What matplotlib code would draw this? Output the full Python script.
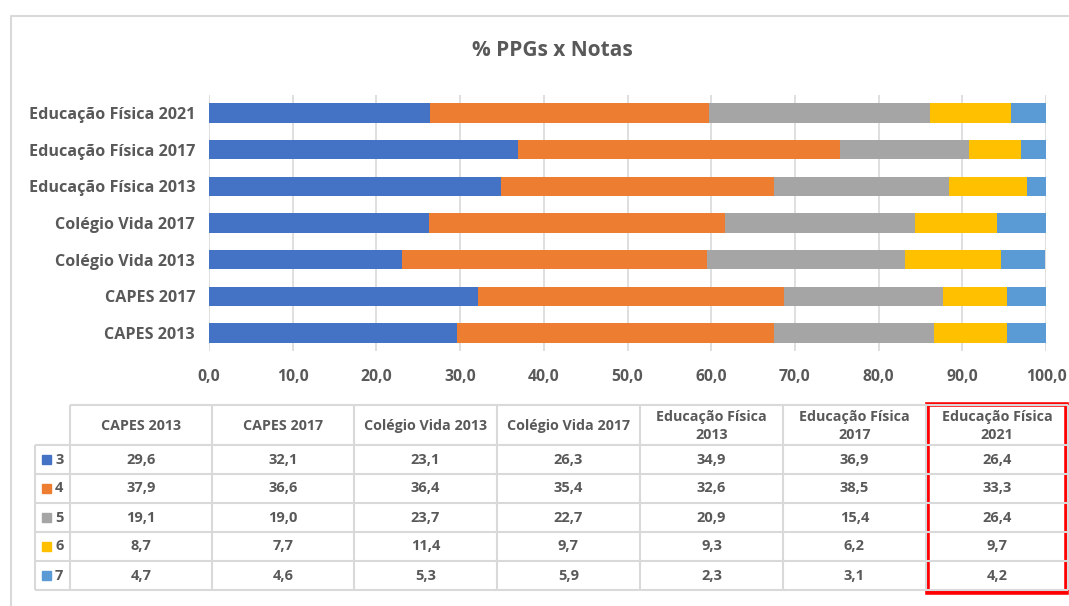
import matplotlib.pyplot as plt
from matplotlib.patches import Rectangle
import numpy as np

plt.rcParams['font.family'] = ['Open Sans', 'DejaVu Sans']

# data
categories = ['CAPES 2013', 'CAPES 2017', 'Colégio Vida 2013', 'Colégio Vida 2017',
              'Educação Física 2013', 'Educação Física 2017', 'Educação Física 2021']
header_labels = ['CAPES 2013', 'CAPES 2017', 'Colégio Vida 2013', 'Colégio Vida 2017',
                 'Educação Física\n2013', 'Educação Física\n2017', 'Educação Física\n2021']
grades = ['3', '4', '5', '6', '7']
nota_3 = [29.6, 32.1, 23.1, 26.3, 34.9, 36.9, 26.4]
nota_4 = [37.9, 36.6, 36.4, 35.4, 32.6, 38.5, 33.3]
nota_5 = [19.1, 19.0, 23.7, 22.7, 20.9, 15.4, 26.4]
nota_6 = [8.7, 7.7, 11.4, 9.7, 9.3, 6.2, 9.7]
nota_7 = [4.7, 4.6, 5.3, 5.9, 2.3, 3.1, 4.2]
series = [nota_3, nota_4, nota_5, nota_6, nota_7]
colors = ['#4472C4', '#ED7D31', '#A5A5A5', '#FFC000', '#5B9BD5']

TXT = '#595959'
W, H = 1069, 606

fig = plt.figure(figsize=(W / 100, H / 100), dpi=100)

# chart axes placed in pixel terms
left, right = 209, 1046
top, bottom = 94.7, 351.3
ax = fig.add_axes([left / W, 1 - bottom / H, (right - left) / W, (bottom - top) / H])

y = np.arange(len(categories))
base = np.zeros(len(categories))
for vals, c in zip(series, colors):
    ax.barh(y, vals, left=base, height=0.52, color=c, zorder=3)
    base += np.array(vals)

ax.set_xlim(0, 100)
ax.set_ylim(-0.5, len(categories) - 0.5)
ax.set_xticks(np.arange(0, 101, 10))
ax.set_xticklabels([f'{v:.1f}'.replace('.', ',') for v in np.arange(0, 101, 10)],
                   fontsize=11.3, color=TXT, fontweight='bold')
ax.set_yticks(y)
ax.set_yticklabels(categories, fontsize=11.6, color=TXT, fontweight='bold')
ax.tick_params(length=0, pad=10)
ax.tick_params(axis='x', pad=13)
ax.grid(axis='x', color='#D9D9D9', lw=1.2, zorder=0)
for s in ax.spines.values():
    s.set_visible(False)

fig.text(552 / W, 1 - 50 / H, '% PPGs x Notas', ha='center', va='center',
         fontsize=15, fontweight='bold', color=TXT)

# overlay for frame and table
ov = fig.add_axes([0, 0, 1, 1], zorder=5)
ov.set_xlim(0, W)
ov.set_ylim(H, 0)
ov.axis('off')
ov.patch.set_alpha(0)

ov.plot([11, 11, W], [H, 16, 16], color='#D9D9D9', lw=1.5)

col_edges = [70, 212, 354, 497, 640, 783, 926, 1068]
row_edges = [405, 445, 474, 503, 532, 561, 590]
gc = '#D9D9D9'
ov.hlines(row_edges[0], col_edges[0], col_edges[-1], color=gc, lw=1.5)
ov.hlines(row_edges[1:], 35, col_edges[-1], color=gc, lw=1.5)
ov.vlines(35, row_edges[1], row_edges[-1], color=gc, lw=1.5)
ov.vlines(col_edges, row_edges[0], row_edges[-1], color=gc, lw=1.5)

for j, lab in enumerate(header_labels):
    xc = (col_edges[j] + col_edges[j + 1]) / 2
    ov.text(xc, (row_edges[0] + row_edges[1]) / 2 + 1, lab, ha='center', va='center',
            fontsize=10.3, color=TXT, fontweight='bold', linespacing=1.3)

for i, (g, vals, c) in enumerate(zip(grades, series, colors)):
    yc = (row_edges[i + 1] + row_edges[i + 2]) / 2
    ov.add_patch(Rectangle((42, yc - 4.5), 9, 9, color=c))
    ov.text(55, yc, g, ha='left', va='center', fontsize=10.5, color=TXT, fontweight='bold')
    for j, v in enumerate(vals):
        xc = (col_edges[j] + col_edges[j + 1]) / 2
        ov.text(xc, yc, f'{v:.1f}'.replace('.', ','), ha='center', va='center',
                fontsize=10.5, color=TXT, fontweight='bold')

ov.add_patch(Rectangle((927, 404), 139, 188, fill=False, edgecolor='#FF0000', lw=3.3))

fig.savefig('out.png', dpi=100, facecolor='white')
